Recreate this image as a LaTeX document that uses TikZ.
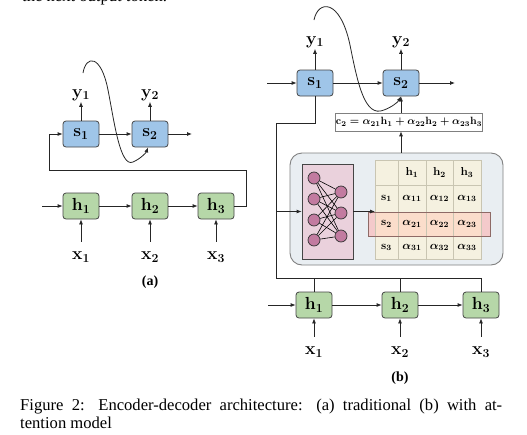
\RequirePackage{fix-cm}
\documentclass[tikz,border=0pt]{standalone}
\usepackage[no-math]{fontspec}
\newfontfamily\capfont{Liberation Serif}
\usepackage{tikz}
\usetikzlibrary{arrows.meta,calc}

\definecolor{decblue}{HTML}{9FC5E8}
\definecolor{encgreen}{HTML}{B6D7A8}
\definecolor{boxline}{HTML}{454545}
\definecolor{attfill}{HTML}{E9EEF2}
\definecolor{attline}{HTML}{808080}
\definecolor{nnfill}{HTML}{EAD1DC}
\definecolor{neuronfill}{HTML}{C27BA0}
\definecolor{tfill}{HTML}{F5F1E0}
\definecolor{tline}{HTML}{C9C5B2}
\definecolor{bandfill}{HTML}{F4CACB}
\definecolor{bandcell}{HTML}{FBDDCB}
\definecolor{bandline}{HTML}{8E6A66}

\tikzset{
  rnn/.style={draw=boxline, line width=0.8pt, rounded corners=3pt, minimum width=36pt, minimum height=26pt, inner sep=0pt, font=\fontsize{17.5}{17.5}\selectfont\boldmath},
  dec/.style={rnn, fill=decblue},
  enc/.style={rnn, fill=encgreen},
  lbl/.style={inner sep=1pt, font=\fontsize{17.5}{17.5}\selectfont\boldmath},
  arr/.style={-{Latex[length=5pt,width=4pt]}, line width=0.8pt, draw=black!85},
  wire/.style={line width=0.8pt, draw=black!85},
  tgrid/.style={draw=tline, line width=0.7pt, fill=tfill},
  tgridb/.style={draw=tline, line width=0.7pt, fill=bandcell},
  tlbl/.style={inner sep=0pt, font=\fontsize{11.5}{11.5}\selectfont\boldmath},
  neuron/.style={circle, draw=black!80, line width=0.7pt, fill=neuronfill, minimum size=12pt, inner sep=0pt},
  capline/.style={inner sep=0pt, font=\fontsize{16.6}{18}\capfont},
  sublbl/.style={inner sep=0pt, font=\fontsize{14}{14}\capfont\bfseries}
}

\newcommand{\tcell}[6]{\draw[tgrid] (#1,#2) rectangle (#3,#4); \node[tlbl] (#6) at ($(#1,#2)!0.5!(#3,#4)$) {#5};}
\newcommand{\tcellb}[6]{\draw[tgridb] (#1,#2) rectangle (#3,#4); \node[tlbl] (#6) at ($(#1,#2)!0.5!(#3,#4)$) {#5};}

\begin{document}
\begin{tikzpicture}[x=1pt, y=-1pt]
        \useasboundingbox (0,0) rectangle (527,434);
        \node[capline, anchor=base west] (toptext) at (22,1) {the next output token.};

        % (a) traditional
        \node[dec] (as1) at (81,134) {$\mathbf{s}_1$};
        \node[dec] (as2) at (150,134) {$\mathbf{s}_2$};
        \node[enc] (ah1) at (81,206) {$\mathbf{h}_1$};
        \node[enc] (ah2) at (150,206) {$\mathbf{h}_2$};
        \node[enc] (ah3) at (216,206) {$\mathbf{h}_3$};
        \node[lbl] (ay1) at (81,95) {$\mathbf{y}_1$};
        \node[lbl] (ay2) at (150,95) {$\mathbf{y}_2$};
        \node[lbl] (ax1) at (81,257) {$\mathbf{x}_1$};
        \node[lbl] (ax2) at (150,257) {$\mathbf{x}_2$};
        \node[lbl] (ax3) at (216,257) {$\mathbf{x}_3$};
        \coordinate (ain) at (42,206);
        \coordinate (aout) at (192,134);
        \coordinate (aloop) at (246,170);
        \coordinate (aback) at (49,134);
        \coordinate (acurve) at (83,73);
        \draw[arr] (ain) -- (ah1);
        \draw[arr] (ah1) -- (ah2);
        \draw[arr] (ah2) -- (ah3);
        \draw[arr] (as1) -- (as2);
        \draw[arr] (as2) -- (aout);
        \draw[arr] (as1) -- (ay1);
        \draw[arr] (as2) -- (ay2);
        \foreach \i in {1,2,3}
            \draw[arr, shorten <=9pt] (ax\i) -- (ah\i);
        \draw[arr] (ah3.east) -| (aloop) -| (aback) -- (as1.west);
        \draw[arr] (acurve) .. controls (86,55) and (101,54) .. (108,90)
            .. controls (114,120) and (120,168) .. (133,162)
            .. controls (140,159) and (146,153) .. ([xshift=-2pt]as2.south);
        \node[sublbl] (alabel) at (150,282) {(a)};

        % (b) with attention
        \node[dec] (bs1) at (315,83) {$\mathbf{s}_1$};
        \node[dec] (bs2) at (401,83) {$\mathbf{s}_2$};
        \node[lbl] (by1) at (315,42) {$\mathbf{y}_1$};
        \node[lbl] (by2) at (401,42) {$\mathbf{y}_2$};
        \coordinate (bin) at (267,83);
        \coordinate (bout) at (455,83);
        \coordinate (bcurve) at (314,20);
        \draw[arr] (bin) -- (bs1);
        \draw[arr] (bs1) -- (bs2);
        \draw[arr] (bs2) -- (bout);
        \draw[arr] (bs1) -- (by1);
        \draw[arr] (bs2) -- (by2);
        \draw[arr] (bcurve) .. controls (318,0) and (340,-2) .. (350,45)
            .. controls (358,85) and (365,118) .. (384,110)
            .. controls (392,107) and (398,102) .. (bs2.south);

        \node[draw=attline, line width=0.7pt, fill=white, inner sep=0.5pt, minimum width=140pt, minimum height=18pt, font=\fontsize{10.5}{10.5}\selectfont\boldmath] (c2) at (409,122)
            {$\mathbf{c}_2 = \alpha_{21}\mathbf{h}_1 + \alpha_{22}\mathbf{h}_2 + \alpha_{23}\mathbf{h}_3$};
        \draw[arr] (c2.north -| bs2) -- (bs2.south);

        \node[draw=attline, line width=0.9pt, fill=attfill, rounded corners=12pt, minimum width=213pt, minimum height=112pt] (att) at (396.5,209) {};
        \draw[arr] (att.north -| bs2) -- (c2.south -| bs2);

        \node[draw=boxline, line width=0.8pt, fill=nnfill, minimum width=51pt, minimum height=95pt] (nn) at (327.5,211.5) {};
        \foreach \y [count=\i] in {178,199,220,240}
            \node[neuron] (l\i) at (314,\y) {};
        \foreach \y [count=\j] in {192,213,236}
            \node[neuron] (r\j) at (341,\y) {};
        \foreach \i in {1,...,4}
            \foreach \j in {1,2,3}
                \draw[line width=0.6pt] (l\i) -- (r\j);

        % header row
        \tcell{375}{160}{398}{185}{}{t00}
        \tcell{398}{160}{426}{185}{$\mathbf{h}_1$}{t01}
        \tcell{426}{160}{453}{185}{$\mathbf{h}_2$}{t02}
        \tcell{453}{160}{481}{185}{$\mathbf{h}_3$}{t03}
        % row s1
        \tcell{375}{185}{398}{212}{$\mathbf{s}_1$}{t10}
        \tcell{398}{185}{426}{212}{$\alpha_{11}$}{t11}
        \tcell{426}{185}{453}{212}{$\alpha_{12}$}{t12}
        \tcell{453}{185}{481}{212}{$\alpha_{13}$}{t13}
        % row s3
        \tcell{375}{236}{398}{259}{$\mathbf{s}_3$}{t30}
        \tcell{398}{236}{426}{259}{$\alpha_{31}$}{t31}
        \tcell{426}{236}{453}{259}{$\alpha_{32}$}{t32}
        \tcell{453}{236}{481}{259}{$\alpha_{33}$}{t33}
        % row s2 (highlighted)
        \draw[fill=bandfill, draw=bandline, line width=0.8pt] (368,212) rectangle (490,236);
        \tcellb{375}{212}{398}{236}{$\mathbf{s}_2$}{t20}
        \tcellb{398}{212}{426}{236}{$\alpha_{21}$}{t21}
        \tcellb{426}{212}{453}{236}{$\alpha_{22}$}{t22}
        \tcellb{453}{212}{481}{236}{$\alpha_{23}$}{t23}
        \draw[bandline, line width=0.8pt] (368,212) -- (490,212) (368,236) -- (490,236);
        \coordinate (tabin) at (375,211.5);
        \draw[arr] (nn) -- (tabin);

        \node[enc] (bh1) at (314,305) {$\mathbf{h}_1$};
        \node[enc] (bh2) at (400,305) {$\mathbf{h}_2$};
        \node[enc] (bh3) at (481,305) {$\mathbf{h}_3$};
        \node[lbl] (bx1) at (314,352) {$\mathbf{x}_1$};
        \node[lbl] (bx2) at (400,352) {$\mathbf{x}_2$};
        \node[lbl] (bx3) at (481,352) {$\mathbf{x}_3$};
        \coordinate (bin2) at (268,305);
        \coordinate (bcorner) at (276,123);
        \coordinate (bbus) at (276,278);
        \coordinate (btap) at (276,211.5);
        \draw[arr] (bin2) -- (bh1);
        \draw[arr] (bh1) -- (bh2);
        \draw[arr] (bh2) -- (bh3);
        \foreach \i in {1,2,3}
            \draw[arr, shorten <=9pt] (bx\i) -- (bh\i);
        \draw[wire] (bs1.south) |- (bcorner) -- (bbus) -| (bh3.north);
        \draw[wire] (bh1.north) -- (bh1.north |- bbus);
        \draw[wire] (bh2.north) -- (bh2.north |- bbus);
        \draw[arr] (btap) -- (nn);
        \node[sublbl] (blabel) at (400,378) {(b)};

        % caption
        \node[capline, anchor=base west] (cap1) at (20,410) {\makebox[482pt][s]{Figure 2: Encoder-decoder architecture: (a) traditional (b) with at-}};
        \node[capline, anchor=base west] (cap2) at (20,428) {tention model};
\end{tikzpicture}
\end{document}
